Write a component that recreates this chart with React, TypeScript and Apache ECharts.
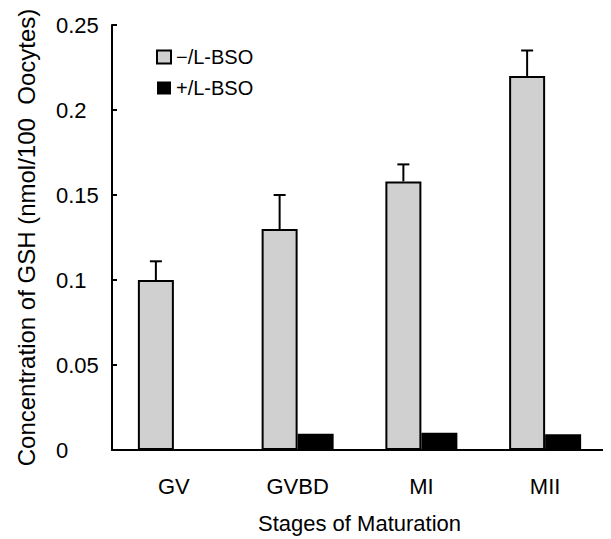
import React, { useEffect, useRef } from "react";
import * as echarts from "echarts";

const categories = ["GV", "GVBD", "MI", "MII"];
const minusBSO = [0.1, 0.13, 0.158, 0.22];
const minusBSOErrTop = [0.111, 0.15, 0.168, 0.235];
const plusBSO = [0, 0.0095, 0.0102, 0.0093];
const yTicks = [0, 0.05, 0.1, 0.15, 0.2, 0.25];

const FONT = "Liberation Sans, Arial, sans-serif";

export default function App() {
  const ref = useRef<HTMLDivElement>(null);
  useEffect(() => {
    if (!ref.current) return;
    const chart = echarts.init(ref.current, null, { renderer: "svg" });
    const BAR_W = 36;
    const errData = categories.map((_, i) => [i, minusBSO[i], minusBSOErrTop[i]]);
    chart.setOption({
      animation: false,
      backgroundColor: "#ffffff",
      textStyle: { fontFamily: FONT, color: "#000" },
      grid: { left: 112, right: 4, top: 25, bottom: 86 },
      legend: {
        orient: "vertical",
        left: 151,
        top: 42,
        itemWidth: 14,
        itemHeight: 13,
        itemGap: 11,
        icon: "rect",
        textStyle: { fontFamily: FONT, fontSize: 20, color: "#000" },
        data: ["−/L-BSO", "+/L-BSO"],
      },
      xAxis: {
        type: "category",
        data: categories,
        name: "Stages of Maturation",
        nameLocation: "middle",
        nameGap: 62,
        nameTextStyle: { fontFamily: FONT, fontSize: 22, color: "#000" },
        axisLine: { lineStyle: { color: "#000", width: 2 } },
        axisTick: { inside: true, length: 6, lineStyle: { color: "#000", width: 2 } },
        axisLabel: { fontFamily: FONT, fontSize: 22, color: "#000", margin: 25 },
      },
      yAxis: {
        type: "value",
        min: 0,
        max: 0.25,
        interval: 0.05,
        name: "Concentration of GSH (nmol/100  Oocytes)",
        nameLocation: "middle",
        nameGap: 74,
        nameTextStyle: { fontFamily: FONT, fontSize: 24, color: "#000" },
        axisLine: { show: true, lineStyle: { color: "#000", width: 2 } },
        axisTick: { show: true, inside: true, length: 5, lineStyle: { color: "#000", width: 2 } },
        splitLine: { show: false },
        axisLabel: {
          fontFamily: FONT,
          fontSize: 22,
          color: "#000",
          align: "left",
          margin: 56,
          formatter: (v: number) => {
            const t = yTicks.find((x) => Math.abs(x - v) < 1e-9);
            return t === undefined ? "" : String(t);
          },
        },
      },
      series: [
        {
          name: "−/L-BSO",
          type: "bar",
          data: minusBSO,
          barWidth: BAR_W,
          barGap: "0%",
          itemStyle: { color: "#d0d0d0", borderColor: "#000", borderWidth: 2 },
        },
        {
          name: "+/L-BSO",
          type: "bar",
          data: plusBSO,
          barWidth: BAR_W,
          barGap: "0%",
          itemStyle: { color: "#000" },
        },
        {
          type: "custom",
          name: "err",
          data: errData,
          z: 5,
          renderItem: (params: any, api: any) => {
            const idx = api.value(0);
            const base = api.coord([idx, api.value(1)]);
            const top = api.coord([idx, api.value(2)]);
            const x = base[0] - BAR_W / 2;
            const cap = 6;
            return {
              type: "group",
              children: [
                {
                  type: "line",
                  shape: { x1: x, y1: base[1], x2: x, y2: top[1] },
                  style: { stroke: "#000", lineWidth: 2 },
                },
                {
                  type: "line",
                  shape: { x1: x - cap, y1: top[1], x2: x + cap, y2: top[1] },
                  style: { stroke: "#000", lineWidth: 2 },
                },
              ],
            };
          },
        },
      ],
    });
    return () => chart.dispose();
  }, []);
  return <div ref={ref} style={{ width: 611, height: 539, marginLeft: -8, marginTop: -8 }} />;
}
